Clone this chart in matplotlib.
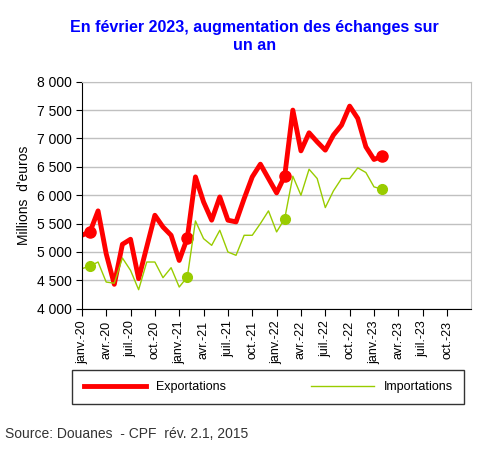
import matplotlib.pyplot as plt

plt.rcParams['font.family'] = ['Liberation Sans', 'DejaVu Sans']

months = list(range(38))
exports = [5294, 5353, 5724, 4970, 4430, 5135, 5224, 4530, 5090, 5647, 5440, 5294,
           4850, 5247, 6323, 5882, 5560, 5970, 5560, 5530, 5940, 6323, 6547, 6294,
           6041, 6340, 7500, 6782, 7100, 6940, 6794, 7060, 7235, 7570, 7353, 6853,
           6630, 6688]
imports = [4706, 4750, 4823, 4470, 4450, 4894, 4676, 4335, 4823, 4823, 4547, 4723,
           4382, 4560, 5547, 5235, 5117, 5382, 5000, 4941, 5294, 5294, 5500, 5724,
           5353, 5588, 6335, 6000, 6458, 6294, 5782, 6076, 6294, 6294, 6482, 6400,
           6147, 6106]
feb_idx = [1, 13, 25, 37]
tick_labels = ['janv.-20', 'avr.-20', 'juil.-20', 'oct.-20',
               'janv.-21', 'avr.-21', 'juil.-21', 'oct.-21',
               'janv.-22', 'avr.-22', 'juil.-22', 'oct.-22',
               'janv.-23', 'avr.-23', 'juil.-23', 'oct.-23']

red = '#ff0000'
green = '#99cc00'

fig = plt.figure(figsize=(4.9, 4.54), dpi=100)
ax = fig.add_axes([0.167, 0.32, 0.795, 0.50])

ax.plot(months, exports, color=red, lw=3.5, label='Exportations')
ax.plot([months[i] for i in feb_idx], [exports[i] for i in feb_idx], 'o', color=red, ms=8)
ax.plot(months, imports, color=green, lw=1, label='Importations')
ax.plot([months[i] for i in feb_idx], [imports[i] for i in feb_idx], 'o', color=green, ms=7)

ax.set_xlim(0, 48)
ax.set_ylim(4000, 8000)
ax.set_yticks(range(4000, 8001, 500))
ax.set_yticklabels([f'{v:,}'.replace(',', ' ') for v in range(4000, 8001, 500)], fontsize=10)
ax.set_xticks(range(0, 46, 3))
ax.set_xticklabels(tick_labels, rotation=90, fontsize=9)
ax.grid(axis='y', color='#c0c0c0', lw=1)
ax.set_axisbelow(True)
for s in ['top', 'right']:
    ax.spines[s].set_color('#c0c0c0')
ax.tick_params(axis='x', direction='out', length=5)
ax.tick_params(axis='y', direction='out', length=4)
ax.set_ylabel("Millions  d'euros", fontsize=10)

fig.suptitle("En février 2023, augmentation des échanges sur\nun an", x=0.52, y=0.955,
             color='#0000ff', fontsize=11.5, fontweight='bold')

leg = fig.legend(loc='center', bbox_to_anchor=(0.135, 0.095, 0.825, 0.105),
                 ncol=2, frameon=True, fancybox=False, edgecolor='black',
                 fontsize=9, handlelength=5, columnspacing=5, borderpad=0.9,
                 mode='expand')

fig.text(0.01, 0.035, 'Source: Douanes  - CPF  rév. 2.1, 2015', fontsize=10, color='#333333')

fig.savefig('out.png', dpi=100)
